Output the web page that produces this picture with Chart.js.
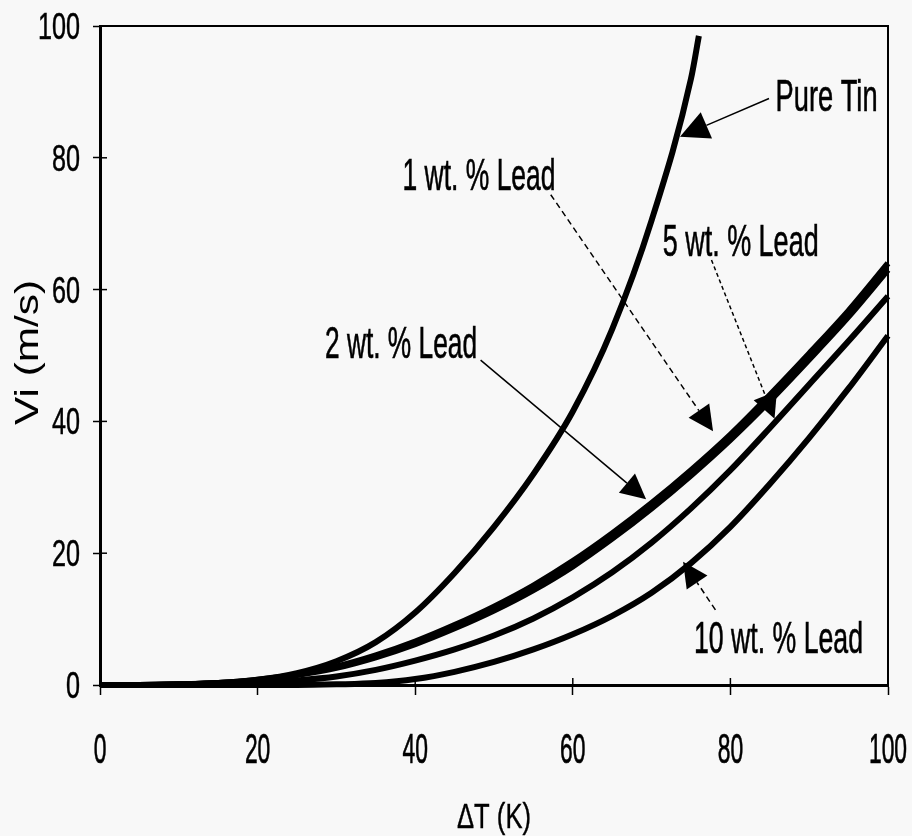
<!DOCTYPE html>
<html>
<head>
<meta charset="utf-8">
<script src="https://cdn.jsdelivr.net/npm/chart.js@4.4.1/dist/chart.umd.min.js"></script>
<style>
  html, body { margin: 0; padding: 0; background: #f8f8f8; }
  #wrap { width: 912px; height: 836px; }
</style>
</head>
<body>
<div id="wrap"><canvas id="vChart" width="912" height="836"></canvas></div>
<script>
// undercooling (K) at which each curve was sampled
const deltaT = [0, 5, 10, 15, 20, 25, 30, 35, 40, 45, 50, 55, 60, 65, 70, 75, 80, 85, 90, 95, 100];
const tinDeltaT = [0, 5, 10, 15, 20, 25, 30, 35, 40, 45, 50, 55, 60, 65, 70, 75, 76];

// interface velocity Vi (m/s)
const pureTin = [0, 0, 0.1, 0.3, 0.8, 1.8, 3.6, 6.5, 11, 17, 24, 32, 41.5, 54, 70.5, 92, 98.5];
const lead1 = [0, 0, 0.1, 0.3, 0.8, 1.6, 2.8, 4.5, 6.6, 9.1, 11.9, 15.1, 18.8, 23, 27.6, 32.6, 38, 44, 50.3, 56.8, 64];
const lead2 = [0, 0, 0.1, 0.3, 0.7, 1.5, 2.6, 4.2, 6.2, 8.6, 11.3, 14.4, 18, 22.2, 26.8, 31.8, 37.2, 43.1, 49.4, 55.9, 63];
const lead5 = [0, 0, 0, 0.1, 0.3, 0.7, 1.3, 2.3, 3.7, 5.4, 7.5, 10.1, 13.3, 17.1, 21.6, 26.8, 32.6, 39, 45.6, 52.2, 59];
const lead10 = [0, 0, 0, 0, 0, 0, 0.1, 0.3, 0.9, 2, 3.5, 5.4, 7.7, 10.5, 14, 18.5, 24, 30.5, 37.5, 45, 53];

// callouts: text anchor (centre, baseline) and leader from -> arrow tip, in data units
const callouts = [
  { text: 'Pure Tin',      width: 102, at: [92.2, 87.1], from: [84.9, 89.0], to: [73.6, 83.2], dash: [], head: 1.15 },
  { text: '1 wt. % Lead',  width: 153, at: [48.1, 75.1], from: [57.2, 74.4], to: [77.8, 38.5], dash: [6, 4], head: 1 },
  { text: '2 wt. % Lead',  width: 152, at: [38.2, 49.6], from: [48.3, 49.3], to: [69.3, 28.2], dash: [], head: 1 },
  { text: '5 wt. % Lead',  width: 156, at: [81.3, 65.1], from: [77.6, 64.5], to: [85.6, 40.4], dash: [4, 3], head: 1 },
  { text: '10 wt. % Lead', width: 169, at: [86.1, 4.9],  from: [78.1, 11.4], to: [74.0, 18.7], dash: [6, 4], head: 1 }
];

// first installed sans face from the list
function pickFont(names) {
  const c = document.createElement('canvas').getContext('2d');
  const probe = 'Vi wt. % Lead 0123456789';
  c.font = '40px monospace';
  const base = c.measureText(probe).width;
  for (const n of names) {
    c.font = '40px "' + n + '", monospace';
    if (c.measureText(probe).width !== base) return '"' + n + '"';
  }
  return 'sans-serif';
}
const FACE = pickFont(['Liberation Sans Narrow', 'Arial Narrow', 'Liberation Sans', 'Arimo', 'Arial', 'Helvetica', 'DejaVu Sans']);

function toPoints(xs, ys) {
  return xs.map((x, i) => ({ x: x, y: ys[i] }));
}

function curve(label, xs, ys) {
  return {
    label: label,
    data: toPoints(xs, ys),
    borderColor: '#000',
    borderWidth: 6,
    pointRadius: 0,
    cubicInterpolationMode: 'monotone',
    clip: false
  };
}

// text squeezed sideways to a given width, lightly stroked so it reads heavier
function squeezed(ctx, text, x, y, size, width, align, weight) {
  ctx.save();
  ctx.font = size + 'px ' + FACE;
  const sx = width / ctx.measureText(text).width;
  ctx.translate(x, y);
  ctx.scale(sx, 1);
  ctx.textAlign = align || 'center';
  ctx.textBaseline = 'alphabetic';
  ctx.fillStyle = '#000';
  ctx.fillText(text, 0, 0);
  if (weight) {
    ctx.strokeStyle = '#000';
    ctx.lineWidth = weight;
    ctx.strokeText(text, 0, 0);
  }
  ctx.restore();
}

function arrow(ctx, x0, y0, x1, y1, dash, k) {
  const ang = Math.atan2(y1 - y0, x1 - x0);
  const len = 25 * k, half = 12.5 * k;
  const bx = x1 - Math.cos(ang) * len, by = y1 - Math.sin(ang) * len;
  ctx.save();
  ctx.strokeStyle = '#000';
  ctx.lineWidth = 1.5;
  ctx.setLineDash(dash);
  ctx.beginPath();
  ctx.moveTo(x0, y0);
  ctx.lineTo(bx, by);
  ctx.stroke();
  ctx.setLineDash([]);
  ctx.fillStyle = '#000';
  ctx.beginPath();
  ctx.moveTo(x1, y1);
  ctx.lineTo(bx - Math.sin(ang) * half, by + Math.cos(ang) * half);
  ctx.lineTo(bx + Math.sin(ang) * half, by - Math.cos(ang) * half);
  ctx.closePath();
  ctx.fill();
  ctx.restore();
}

const frame = {
  id: 'frame',
  beforeDraw(chart) {
    const ctx = chart.ctx;
    ctx.save();
    ctx.fillStyle = '#f8f8f8';
    ctx.fillRect(0, 0, chart.width, chart.height);
    ctx.restore();
  },
  afterDraw(chart) {
    const ctx = chart.ctx;
    const a = chart.chartArea;
    const xs = chart.scales.x, ys = chart.scales.y;

    // top and right edges of the box
    ctx.save();
    ctx.strokeStyle = '#000';
    ctx.lineWidth = 2;
    ctx.beginPath();
    ctx.moveTo(a.left, a.top);
    ctx.lineTo(a.right, a.top);
    ctx.lineTo(a.right, a.bottom);
    ctx.stroke();

    // short tick stubs on the inside of both axes
    ctx.lineWidth = 1.5;
    ys.ticks.forEach(t => {
      const py = ys.getPixelForValue(t.value);
      ctx.beginPath();
      ctx.moveTo(a.left, py);
      ctx.lineTo(a.left + 7, py);
      ctx.stroke();
    });
    xs.ticks.forEach(t => {
      const px = xs.getPixelForValue(t.value);
      ctx.beginPath();
      ctx.moveTo(px, a.bottom);
      ctx.lineTo(px, a.bottom - 7);
      ctx.stroke();
    });
    ctx.restore();

    // tick labels
    xs.ticks.forEach(t => {
      const s = String(t.value);
      squeezed(ctx, s, xs.getPixelForValue(t.value), a.bottom + 78, 43, 12.7 * s.length, 'center', 0.7);
    });
    ys.ticks.forEach(t => {
      const s = String(t.value);
      squeezed(ctx, s, a.left - 20, ys.getPixelForValue(t.value) + 13, 37, 14 * s.length, 'right', 0.5);
    });

    // axis titles
    squeezed(ctx, 'ΔT (K)', (a.left + a.right) / 2, a.bottom + 143, 35, 74, 'center', 0.4);
    ctx.save();
    ctx.translate(38, (a.top + a.bottom) / 2 - 3);
    ctx.rotate(-Math.PI / 2);
    squeezed(ctx, 'Vi (m/s)', 0, 0, 33, 145, 'center', 0);
    ctx.restore();

    callouts.forEach(c => {
      arrow(ctx,
        xs.getPixelForValue(c.from[0]), ys.getPixelForValue(c.from[1]),
        xs.getPixelForValue(c.to[0]), ys.getPixelForValue(c.to[1]), c.dash, c.head);
      squeezed(ctx, c.text, xs.getPixelForValue(c.at[0]), ys.getPixelForValue(c.at[1]), 44, c.width, 'center', 0.6);
    });
  }
};

new Chart(document.getElementById('vChart').getContext('2d'), {
  type: 'line',
  data: {
    datasets: [
      curve('Pure Tin', tinDeltaT, pureTin),
      curve('1 wt. % Lead', deltaT, lead1),
      curve('2 wt. % Lead', deltaT, lead2),
      curve('5 wt. % Lead', deltaT, lead5),
      curve('10 wt. % Lead', deltaT, lead10)
    ]
  },
  options: {
    responsive: false,
    animation: false,
    layout: { padding: { top: 26, right: 24, left: 0, bottom: 0 } },
    plugins: {
      legend: { display: false },
      tooltip: { enabled: false }
    },
    scales: {
      x: {
        type: 'linear',
        min: 0,
        max: 100,
        ticks: { stepSize: 20, display: false },
        grid: { drawOnChartArea: false, tickLength: 10, color: '#000', tickWidth: 1.5 },
        border: { color: '#000', width: 3 },
        afterFit: s => { s.height = 151; }
      },
      y: {
        min: 0,
        max: 100,
        ticks: { stepSize: 20, display: false },
        grid: { drawOnChartArea: false, tickLength: 7, color: '#000', tickWidth: 1.5 },
        border: { color: '#000', width: 3 },
        afterFit: s => { s.width = 100; }
      }
    }
  },
  plugins: [frame]
});
</script>
</body>
</html>
